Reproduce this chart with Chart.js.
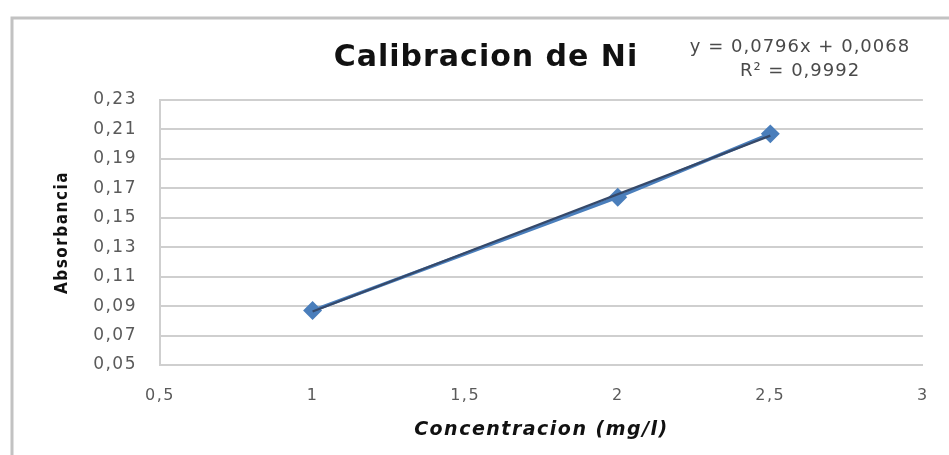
<!DOCTYPE html>
<html>
<head>
<meta charset="utf-8">
<script src="https://cdn.jsdelivr.net/npm/chart.js@4/dist/chart.umd.min.js"></script>
<style>
  html, body { margin: 0; padding: 0; background: #fff; }
  #wrap { width: 949px; height: 455px; position: relative; }
</style>
</head>
<body>
<div id="wrap"><canvas id="chartNi" width="949" height="455"></canvas></div>
<script>
  // curva de calibracion de niquel
  const concentracion = [1, 2, 2.5];
  const absorbancia = [0.087, 0.164, 0.207];
  const pendiente = 0.0796;
  const intercepto = 0.0068;
  const r2 = 0.9992;
  const xTicks = [0.5, 1, 1.5, 2, 2.5, 3];
  const yTicks = [0.05, 0.07, 0.09, 0.11, 0.13, 0.15, 0.17, 0.19, 0.21, 0.23];

  const fmt = (v, d) => v.toFixed(d).replace('.', ',');
  const puntos = concentracion.map((x, i) => ({ x: x, y: absorbancia[i] }));
  const xMin = Math.min(...concentracion), xMax = Math.max(...concentracion);
  const tendencia = [xMin, xMax].map(x => ({ x: x, y: pendiente * x + intercepto }));

  const TICK_COLOR = '#5a5a5a';
  const GRID_COLOR = '#cfcfcf';

  // marco exterior, titulo y ecuacion de la recta
  const decor = {
    id: 'decor',
    beforeDraw(chart) {
      const c = chart.ctx;
      c.save();
      c.fillStyle = '#fff';
      c.fillRect(0, 0, chart.width, chart.height);
      c.strokeStyle = '#c2c2c2';
      c.lineWidth = 3;
      c.beginPath();
      c.moveTo(12, chart.height + 5);
      c.lineTo(12, 18);
      c.lineTo(chart.width + 5, 18);
      c.stroke();
      c.restore();
      // texto de ejes algo mas espaciado
      c.letterSpacing = '1.5px';
    },
    afterDraw(chart) {
      const c = chart.ctx;
      c.save();
      c.textAlign = 'center';
      c.textBaseline = 'middle';
      c.fillStyle = '#111';
      c.letterSpacing = '1px';
      c.font = 'bold 30px "DejaVu Sans"';
      c.fillText('Calibracion de Ni', 486, 58);
      c.fillStyle = '#4a4a4a';
      c.letterSpacing = '1px';
      c.font = '18px "DejaVu Sans"';
      c.fillText('y = ' + fmt(pendiente, 4) + 'x + ' + fmt(intercepto, 4), 800, 47);
      c.fillText('R\u00b2 = ' + fmt(r2, 4), 800, 71);
      c.restore();
      c.letterSpacing = '0px';
    }
  };

  new Chart(document.getElementById('chartNi'), {
    type: 'scatter',
    data: {
      datasets: [
        {
          label: 'Absorbancia',
          data: puntos,
          order: 1,
          showLine: true,
          borderColor: '#4a7ebb',
          backgroundColor: '#4a7ebb',
          borderWidth: 3.5,
          pointStyle: 'rectRot',
          pointRadius: 7,
          pointHoverRadius: 7
        },
        {
          label: 'Lineal',
          data: tendencia,
          order: 0,
          showLine: true,
          borderColor: '#35496a',
          borderWidth: 2.2,
          pointRadius: 0
        }
      ]
    },
    options: {
      responsive: false,
      animation: false,
      layout: { padding: { top: 100, right: 24, left: 0, bottom: 0 } },
      plugins: { legend: { display: false }, tooltip: { enabled: false } },
      scales: {
        x: {
          type: 'linear',
          min: xTicks[0],
          max: xTicks[xTicks.length - 1],
          afterBuildTicks: s => { s.ticks = xTicks.map(v => ({ value: v })); },
          afterFit: s => { s.height = 90; },
          grid: { display: false, drawTicks: false },
          border: { display: true, color: GRID_COLOR, width: 2 },
          ticks: {
            color: TICK_COLOR,
            font: { family: 'DejaVu Sans', size: 16 },
            padding: 21,
            maxRotation: 0,
            callback: v => String(v).replace('.', ',')
          },
          title: {
            display: true,
            text: 'Concentracion (mg/l)',
            color: '#111',
            font: { family: 'DejaVu Sans', size: 19, weight: 'bold', style: 'italic' },
            padding: { top: 0, bottom: 14 }
          }
        },
        y: {
          min: yTicks[0],
          max: yTicks[yTicks.length - 1],
          afterBuildTicks: s => { s.ticks = yTicks.map(v => ({ value: v })); },
          afterFit: s => { s.width = 160; },
          grid: { color: GRID_COLOR, lineWidth: 2, drawTicks: false },
          border: { display: true, color: GRID_COLOR, width: 2 },
          ticks: {
            color: TICK_COLOR,
            font: { family: 'DejaVu Sans', size: 17 },
            padding: 23,
            callback: v => fmt(v, 2)
          },
          title: {
            display: true,
            text: 'Absorbancia',
            color: '#111',
            font: { family: 'DejaVu Sans Condensed', size: 17, weight: 'bold' },
            padding: { top: 52, bottom: 0 }
          }
        }
      }
    },
    plugins: [decor]
  });
</script>
</body>
</html>
